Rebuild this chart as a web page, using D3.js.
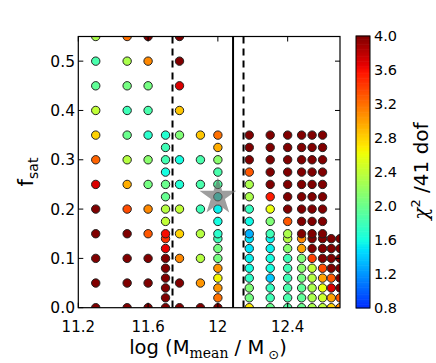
<!DOCTYPE html>
<html><head><meta charset="utf-8">
<script src="https://cdn.jsdelivr.net/npm/d3@7"></script>
<style>
body{margin:0;background:#fff}
svg{display:block}
text{font-family:"DejaVu Sans",sans-serif;fill:#000}
</style>
</head><body>
<svg id="chart" width="436" height="363"></svg>
<script>
// ---------------- DATA ----------------
const coarseF = [0, 0.05, 0.10, 0.15, 0.20, 0.25, 0.30, 0.35, 0.40, 0.45, 0.50, 0.55];
const denseF  = [0, 0.02, 0.04, 0.06, 0.08, 0.10, 0.12, 0.14, 0.15, 0.175, 0.20, 0.225, 0.25, 0.275, 0.30, 0.325, 0.35];

// log10 halo mass for each column
const massCols = [11.30, 11.48, 11.60, 11.70, 11.78, 11.90, 12.00, 12.18, 12.30, 12.40, 12.48, 12.54, 12.60, 12.65, 12.70];
// which f grid each column uses
const colGrid  = ["c", "c", "c", "d", "c", "c", "d", "d", "d", "d", "d", "d", "d", "d", "d"];

// chi^2 / dof values per column, listed from f = 0 upward
const chi2_1130 = [4, 4, 4, 4, 4, 3.7, 3.25, 2.8, 2.4, 1.95, 1.85, 2.3];
const chi2_1148 = [4, 4, 4, 4, 3.35, 2.95, 2.35, 2.0, 1.8, 2.05, 2.3, 3.2];
const chi2_1160 = [4, 4, 4, 3.3, 3.1, 2.05, 2.15, 1.7, 1.85, 2.05, 3.1, 4];
const chi2_1170 = [4, 4, 4, 4, 4, 4, 3.65, 3.45, 3.6, 2.4, 2.35, 1.98, 2.0, 1.6, 1.82, 1.8, 1.68];
const chi2_1178 = [4, 4, 3.1, 2.8, 2.4, 1.65, 1.6, 2.1, 2.85, 3.7, 4, 4];
const chi2_1190 = [4, 3.05, 2.35, 2.35, 1.8, 1.85, 1.85, 2.85];
const chi2_1200 = [4, 3.2, 3.05, 2.65, 3.05, 2.05, 2.05, 1.8, 1.7, 1.6, 1.55, 1.6, 1.9, 1.85, 2.15, 2.95, 3.2];
const chi2_1218 = [2.7, 2.05, 2.1, 1.72, 1.6, 1.55, 1.5, 1.5, 1.3, 1.58, 1.75, 2.3, 2.3, 3.3, 4, 4, 4];
const chi2_1230 = [2.0, 1.8, 1.75, 1.4, 1.6, 1.6, 1.55, 1.55, 1.8, 2.1, 2.6, 3.55, 4, 4, 4, 4, 4];
const chi2_1240 = [1.9, 1.85, 1.85, 1.8, 1.8, 1.8, 2.15, 2.35, 2.3, 3.3, 4, 4, 4, 4, 4, 4, 4];
const chi2_1248 = [2.0, 1.95, 1.95, 2.05, 2.15, 2.1, 3.0, 3.1, 4, 4, 4, 4, 4, 4, 4, 4, 4];
const chi2_1254 = [2.3, 2.3, 2.3, 2.35, 2.4, 3.4, 4, 4, 4, 4, 4, 4, 4, 4, 4, 4, 4];
const chi2_1260 = [2.4, 2.45, 2.6, 3.0, 3.35, 4, 4, 4, 4, 4, 4, 4, 4, 4, 4, 4, 4];
const chi2_1265 = [2.8, 3.0, 3.7, 3.3, 4, 4, 4, 4];
const chi2_1270 = [3.1, 3.3, 4, 4, 4, 4, 4, 4];
const chi2Cols = [chi2_1130, chi2_1148, chi2_1160, chi2_1170, chi2_1178, chi2_1190, chi2_1200,
                  chi2_1218, chi2_1230, chi2_1240, chi2_1248, chi2_1254, chi2_1260, chi2_1265, chi2_1270];

const bestFit = [12.0, 0.225];
const dashedLinesX = [11.74, 12.147];
const solidLinesX  = [12.087];

const xTicks = [11.2, 11.6, 12.0, 12.4];
const xTickLabels = ["11.2", "11.6", "12", "12.4"];
const yTicks = [0, 0.1, 0.2, 0.3, 0.4, 0.5];
const cbTicks = [0.8, 1.2, 1.6, 2.0, 2.4, 2.8, 3.2, 3.6, 4.0];
const cbRange = [0.8, 4.0];

// ---------------- CHART ----------------
const svg = d3.select("#chart");
const L = 78.3, R = 340, T = 36.5, B = 307.7;
const x = d3.scaleLinear().domain([11.2, 12.7]).range([L, R]);
const y = d3.scaleLinear().domain([0, 0.55]).range([B, T]);

// jet colormap (matplotlib segment data), shifted so the visible bar starts at light blue
const jr = d3.scaleLinear().domain([0, 0.35, 0.66, 0.89, 1]).range([0, 0, 1, 1, 0.5]).clamp(true);
const jg = d3.scaleLinear().domain([0, 0.125, 0.375, 0.64, 0.91, 1]).range([0, 0, 1, 1, 0, 0]).clamp(true);
const jb = d3.scaleLinear().domain([0, 0.11, 0.34, 0.65, 1]).range([0.5, 1, 1, 0, 0]).clamp(true);
const tScale = d3.scaleLinear().domain([0.16, 4.0]).range([0, 1]).clamp(true);
function jet(v) {
  const t = tScale(v);
  return d3.rgb(255 * jr(t), 255 * jg(t), 255 * jb(t)).formatHex();
}

svg.append("defs").append("clipPath").attr("id", "plotclip")
  .append("rect").attr("x", L).attr("y", T).attr("width", R - L).attr("height", B - T);

const plot = svg.append("g").attr("clip-path", "url(#plotclip)");

// reference lines
plot.selectAll("line.dash").data(dashedLinesX).enter().append("line")
  .attr("x1", d => x(d)).attr("x2", d => x(d)).attr("y1", T).attr("y2", B)
  .attr("stroke", "#000").attr("stroke-width", 2).attr("stroke-dasharray", "7,5");
plot.selectAll("line.solid").data(solidLinesX).enter().append("line")
  .attr("x1", d => x(d)).attr("x2", d => x(d)).attr("y1", T).attr("y2", B)
  .attr("stroke", "#000").attr("stroke-width", 2);

// points
const pts = [];
massCols.forEach((m, i) => {
  const grid = colGrid[i] === "c" ? coarseF : denseF;
  chi2Cols[i].forEach((v, j) => pts.push({m: m, f: grid[j], v: v}));
});
plot.selectAll("circle.pt").data(pts).enter().append("circle")
  .attr("cx", d => x(d.m)).attr("cy", d => y(d.f)).attr("r", 4.2)
  .attr("fill", d => jet(d.v)).attr("stroke", "#222").attr("stroke-width", 1);

// best-fit star
const star = d3.symbol().type(d3.symbolStar).size(420);
plot.append("path").attr("d", star())
  .attr("transform", `translate(${x(bestFit[0])},${y(bestFit[1])})`)
  .attr("fill", "#6a6a6a").attr("fill-opacity", 0.65);

// frame
svg.append("rect").attr("x", L).attr("y", T).attr("width", R - L).attr("height", B - T)
  .attr("fill", "none").attr("stroke", "#000").attr("stroke-width", 1.2);

// ticks (inward, all sides)
const tk = svg.append("g").attr("stroke", "#000").attr("stroke-width", 1);
xTicks.forEach(v => {
  tk.append("line").attr("x1", x(v)).attr("x2", x(v)).attr("y1", B).attr("y2", B - 5);
  tk.append("line").attr("x1", x(v)).attr("x2", x(v)).attr("y1", T).attr("y2", T + 5);
});
yTicks.forEach(v => {
  tk.append("line").attr("x1", L).attr("x2", L + 5).attr("y1", y(v)).attr("y2", y(v));
  tk.append("line").attr("x1", R).attr("x2", R - 5).attr("y1", y(v)).attr("y2", y(v));
});

svg.selectAll("text.xt").data(xTicks).enter().append("text")
  .attr("x", d => x(d)).attr("y", 331.5).attr("text-anchor", "middle")
  .style("font-size", "15px").text((d, i) => xTickLabels[i]);
svg.selectAll("text.yt").data(yTicks).enter().append("text")
  .attr("x", 75).attr("y", d => y(d)).attr("dy", "0.36em").attr("text-anchor", "end")
  .style("font-size", "15.5px").text(d => d3.format(".1f")(d));

// x label
const xl = svg.append("text").attr("x", 208).attr("y", 353.5).attr("text-anchor", "middle")
  .style("font-size", "19.5px");
xl.append("tspan").text("log (M");
xl.append("tspan").attr("dy", 4).style("font-size", "14px").style("font-family", "DejaVu Serif").text("mean");
xl.append("tspan").attr("dy", -4).text(" / M");
xl.append("tspan").attr("dy", 5).style("font-size", "13px").text(" \u2299");
xl.append("tspan").attr("dy", -5).text(")");

// y label
const yl = svg.append("text").attr("transform", "translate(33,172) rotate(-90)")
  .attr("text-anchor", "middle").style("font-size", "21px");
yl.append("tspan").text("f");
yl.append("tspan").attr("dy", 5).style("font-size", "14px").text("sat");

// ---------------- COLORBAR ----------------
const cbL = 356, cbW = 14, cbT = 36, cbB = 308;
const cy = d3.scaleLinear().domain(cbRange).range([cbB, cbT]);
const nBands = 160;
const bands = d3.range(nBands).map(i => cbRange[0] + (cbRange[1] - cbRange[0]) * (i + 0.5) / nBands);
const bh = (cbB - cbT) / nBands;
svg.append("g").selectAll("rect").data(bands).enter().append("rect")
  .attr("x", cbL).attr("width", cbW)
  .attr("y", d => cy(d) - bh / 2 - 0.3).attr("height", bh + 0.6)
  .attr("fill", d => jet(d));
svg.append("rect").attr("x", cbL).attr("y", cbT).attr("width", cbW).attr("height", cbB - cbT)
  .attr("fill", "none").attr("stroke", "#000").attr("stroke-width", 1);
svg.selectAll("text.cbt").data(cbTicks).enter().append("text")
  .attr("x", 374).attr("y", d => cy(d)).attr("dy", "0.36em")
  .style("font-size", "14.5px").text(d => d3.format(".1f")(d));

const cl = svg.append("text").attr("transform", "translate(428,171) rotate(-90)")
  .attr("text-anchor", "middle").style("font-size", "20px");
cl.append("tspan").style("font-family", "DejaVu Serif").style("font-style", "italic").text("\u03C7");
cl.append("tspan").attr("dy", -8).style("font-size", "13px").text("2");
cl.append("tspan").attr("dy", 8).text(" /41 dof");
</script>
</body></html>
